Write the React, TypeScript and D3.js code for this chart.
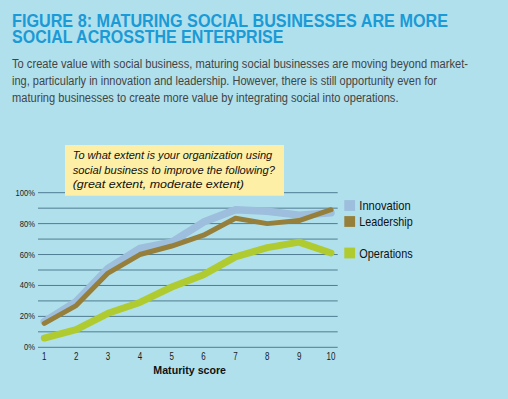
import React from "react";
import * as d3 from "d3";

const maturity = [1, 2, 3, 4, 5, 6, 7, 8, 9, 10];
const innovation = [16.5, 29.5, 51, 64, 68, 81, 89, 88, 85.5, 87];
const leadership = [15.5, 27, 48, 60, 65.5, 72.5, 83.5, 80, 82, 89];
const operations = [6, 11.5, 22, 29, 39, 47, 58.5, 64.5, 68, 61];
const yTicks = [0, 10, 20, 30, 40, 50, 60, 70, 80, 90, 100];
const yLabelTicks = [0, 20, 40, 60, 80, 100];
const seriesNames = ["Innovation", "Leadership", "Operations"];
const titleLines = [
  "FIGURE 8: MATURING SOCIAL BUSINESSES ARE MORE",
  "SOCIAL ACROSSTHE ENTERPRISE",
];
const bodyLines = [
  "To create value with social business, maturing social businesses are moving beyond market-",
  "ing, particularly in innovation and leadership. However, there is still opportunity even for",
  "maturing businesses to create more value by integrating social into operations.",
];
const questionLines = [
  "To what extent is your organization using",
  "social business to improve the following?",
  "(great extent, moderate extent)",
];

const FONT = "'Liberation Sans', Arial, sans-serif";

function NarrowText(props: {
  x: number;
  y: number;
  sx?: number;
  anchor?: "start" | "middle" | "end";
  size: number;
  weight?: string;
  style?: string;
  fill?: string;
  children: React.ReactNode;
}) {
  const sx = props.sx ?? 0.82;
  return (
    <text
      transform={`translate(${props.x},${props.y}) scale(${sx},1)`}
      textAnchor={props.anchor ?? "start"}
      fontFamily={FONT}
      fontSize={props.size}
      fontWeight={props.weight ?? "normal"}
      fontStyle={props.style ?? "normal"}
      fill={props.fill ?? "#1a1a1a"}
    >
      {props.children}
    </text>
  );
}

export default function App() {
  const W = 508, H = 399;
  const x = d3.scaleLinear().domain([1, 10]).range([44.3, 331]);
  const y = d3.scaleLinear().domain([0, 100]).range([347.3, 192.7]);
  const line = d3
    .line<number>()
    .x((_, i) => x(maturity[i]))
    .y((d) => y(d))
    .curve(d3.curveLinear);

  const series = [
    { name: seriesNames[0], data: innovation, color: "#9DBEDD", width: 7.5 },
    { name: seriesNames[1], data: leadership, color: "#957F3A", width: 5 },
    { name: seriesNames[2], data: operations, color: "#AFCB30", width: 7 },
  ];
  const legendY = [205.5, 221.5, 253];
  const legendW = [51.4, 53.4, 53.4];
  const titleWidths = [436, 271.5];
  const bodyWidths = [456, 425, 386.5];
  const qWidths = [199.5, 202.3, 171.3];

  return (
    <div style={{ position: "fixed", left: 0, top: 0, width: W, height: H }}>
      <svg width={W} height={H} style={{ display: "block" }}>
        <rect x={0} y={0} width={W} height={H} fill="#B0E0EC" />
        {titleLines.map((t, i) => (
          <text
            key={t}
            x={12}
            y={26.7 + i * 16}
            fill="#1A9AD6"
            fontFamily={FONT}
            fontWeight="bold"
            fontSize={18}
            textLength={titleWidths[i]}
            lengthAdjust="spacingAndGlyphs"
          >
            {t}
          </text>
        ))}
        {bodyLines.map((t, i) => (
          <text
            key={t}
            x={12}
            y={67.5 + i * 17}
            fill="#444"
            fontFamily={FONT}
            fontSize={12}
            textLength={bodyWidths[i]}
            lengthAdjust="spacingAndGlyphs"
          >
            {t}
          </text>
        ))}
        {yTicks.map((v) => (
          <line
            key={v}
            x1={38}
            x2={337.7}
            y1={y(v)}
            y2={y(v)}
            stroke="#4F7C90"
            strokeWidth={1}
          />
        ))}
        {yLabelTicks.map((v) => (
          <NarrowText key={v} x={35} y={y(v) + 3} anchor="end" size={9.5} sx={0.8}>
            {v}%
          </NarrowText>
        ))}
        {maturity.map((m) => (
          <NarrowText key={m} x={x(m)} y={359.8} anchor="middle" size={10} sx={0.8}>
            {m}
          </NarrowText>
        ))}
        <text
          x={189.7}
          y={374}
          textAnchor="middle"
          fontFamily={FONT}
          fontWeight="bold"
          fontSize={11}
          fill="#111"
          textLength={72.7}
          lengthAdjust="spacingAndGlyphs"
        >
          Maturity score
        </text>
        {series.map((s) => (
          <path
            key={s.name}
            d={line(s.data) || ""}
            fill="none"
            stroke={s.color}
            strokeWidth={s.width}
            strokeLinejoin="round"
            strokeLinecap="round"
          />
        ))}
        <rect x={65} y={145} width={219} height={50.7} fill="#FDEFA6" />
        {questionLines.map((t, i) => (
          <text
            key={t}
            x={72.7}
            y={159 + i * 14.7}
            fontFamily={FONT}
            fontStyle="italic"
            fontSize={11.5}
            fill="#111"
            textLength={qWidths[i]}
            lengthAdjust="spacingAndGlyphs"
          >
            {t}
          </text>
        ))}
        {series.map((s, i) => (
          <g key={s.name}>
            <rect x={344.3} y={legendY[i] - 5.4} width={10.8} height={10.8} fill={s.color} />
            <text
              x={359.3}
              y={legendY[i] + 4.8}
              fontFamily={FONT}
              fontSize={13.5}
              fill="#111"
              textLength={legendW[i]}
              lengthAdjust="spacingAndGlyphs"
            >
              {s.name}
            </text>
          </g>
        ))}
      </svg>
    </div>
  );
}
